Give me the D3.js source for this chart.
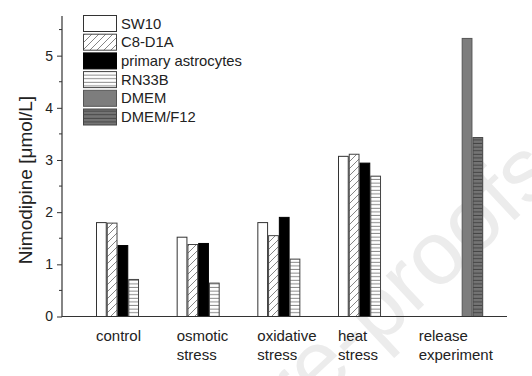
<!DOCTYPE html>
<html><head><meta charset="utf-8">
<script src="https://cdn.jsdelivr.net/npm/d3@7"></script>
<style>body{margin:0;background:#fff}svg{display:block;font-family:"Liberation Sans",Arial,sans-serif}</style>
</head><body><svg id="c" width="532" height="376"></svg>
<script>
const categories = [["control"],["osmotic","stress"],["oxidative","stress"],["heat","stress"],["release","experiment"]];
const seriesNames = ["SW10","C8-D1A","primary astrocytes","RN33B","DMEM","DMEM/F12"];
const SW10 = [1.80,1.52,1.80,3.07,null];
const C8D1A = [1.79,1.38,1.55,3.11,null];
const primaryAstro = [1.36,1.40,1.90,2.94,null];
const RN33B = [0.71,0.64,1.10,2.69,null];
const DMEM = [null,null,null,null,5.33];
const DMEMF12 = [null,null,null,null,3.43];
const yTicks = [0,1,2,3,4,5];
const allSeries = [SW10,C8D1A,primaryAstro,RN33B,DMEM,DMEMF12];

const svg = d3.select("#c");
const defs = svg.append("defs");
function hpat(id,bg,line,gap){
  const p=defs.append("pattern").attr("id",id).attr("patternUnits","userSpaceOnUse").attr("width",8).attr("height",gap);
  p.append("rect").attr("width",8).attr("height",gap).attr("fill",bg);
  p.append("line").attr("x1",0).attr("x2",8).attr("y1",gap-0.5).attr("y2",gap-0.5).attr("stroke",line).attr("stroke-width",1);
}
hpat("rn","#fff","#8a8a8a",3.6);
hpat("f12","#747474","#444",3.6);
const dp=defs.append("pattern").attr("id","diag").attr("patternUnits","userSpaceOnUse").attr("width",7).attr("height",7);
dp.append("rect").attr("width",7).attr("height",7).attr("fill","#fff");
dp.append("path").attr("d","M-1,8 L8,-1 M-1,1 L1,-1 M6,8 L8,6").attr("stroke","#777").attr("stroke-width",0.9);
const fills=["#fff","url(#diag)","#000","url(#rn)","#7d7d7d","url(#f12)"];
const strokes=["#333","#444","#000","#444","#555","#444"];

// watermark
svg.append("text").attr("transform","translate(560,178) rotate(-43)").attr("font-size",90)
  .attr("fill","#ececec").attr("text-anchor","end").text("Journal Pre-proofs");

const y = d3.scaleLinear().domain([0,5.76]).range([316.5,16]);
const x0 = d3.scaleBand().domain(d3.range(categories.length)).range([96,483.2]).paddingInner(0.2).paddingOuter(0);
const x1 = d3.scaleBand().domain(d3.range(seriesNames.length)).range([0,x0.bandwidth()]);

const g=svg.append("g");
allSeries.forEach((s,si)=>{
  g.selectAll(null).data(s.map((v,i)=>({v,i})).filter(d=>d.v!=null)).enter().append("rect")
   .attr("x",d=>x0(d.i)+x1(si)+0.5).attr("width",x1.bandwidth()-1)
   .attr("y",d=>y(d.v)).attr("height",d=>y(0)-y(d.v))
   .attr("fill",fills[si]).attr("stroke",strokes[si]).attr("stroke-width",1);
});

// axes
const yAxis = d3.axisLeft(y).tickValues(yTicks).tickSize(5).tickPadding(4).tickFormat(d3.format("d"));
const ya = svg.append("g").attr("transform","translate(62,0)").call(yAxis);
ya.select(".domain").remove();
ya.selectAll("text").attr("font-size",14).attr("fill","#222").attr("font-family","Liberation Sans, Arial");
ya.selectAll("line").attr("stroke","#333");
const minor = d3.range(0.5,5.76,1);
svg.append("g").selectAll("line").data(minor).enter().append("line")
  .attr("x1",59).attr("x2",62).attr("y1",d=>y(d)).attr("y2",d=>y(d)).attr("stroke","#333");
svg.append("line").attr("x1",62).attr("x2",62).attr("y1",y(5.76)).attr("y2",y(0)).attr("stroke","#333").attr("stroke-width",1.2);
svg.append("line").attr("x1",61.5).attr("x2",507).attr("y1",y(0)).attr("y2",y(0)).attr("stroke","#333").attr("stroke-width",1.2);

// x labels
categories.forEach((lines,i)=>{
  const t=svg.append("text").attr("font-size",15).attr("fill","#222");
  lines.forEach((l,k)=>t.append("tspan").attr("x",x0(i)).attr("y",341+k*18.5).text(l));
});

svg.append("text").attr("transform","translate(32,180) rotate(-90)").attr("text-anchor","middle")
  .attr("font-size",19).attr("fill","#222").text("Nimodipine [\u03bcmol/L]");

// legend
const lg=svg.append("g");
seriesNames.forEach((n,i)=>{
  const yy=15.5+i*18.7;
  lg.append("rect").attr("x",83.5).attr("y",yy).attr("width",33).attr("height",16).attr("fill",fills[i]).attr("stroke",strokes[i]);
  lg.append("text").attr("x",121).attr("y",yy+13).attr("font-size",14.8).attr("fill","#222").text(n);
});
</script></body></html>
